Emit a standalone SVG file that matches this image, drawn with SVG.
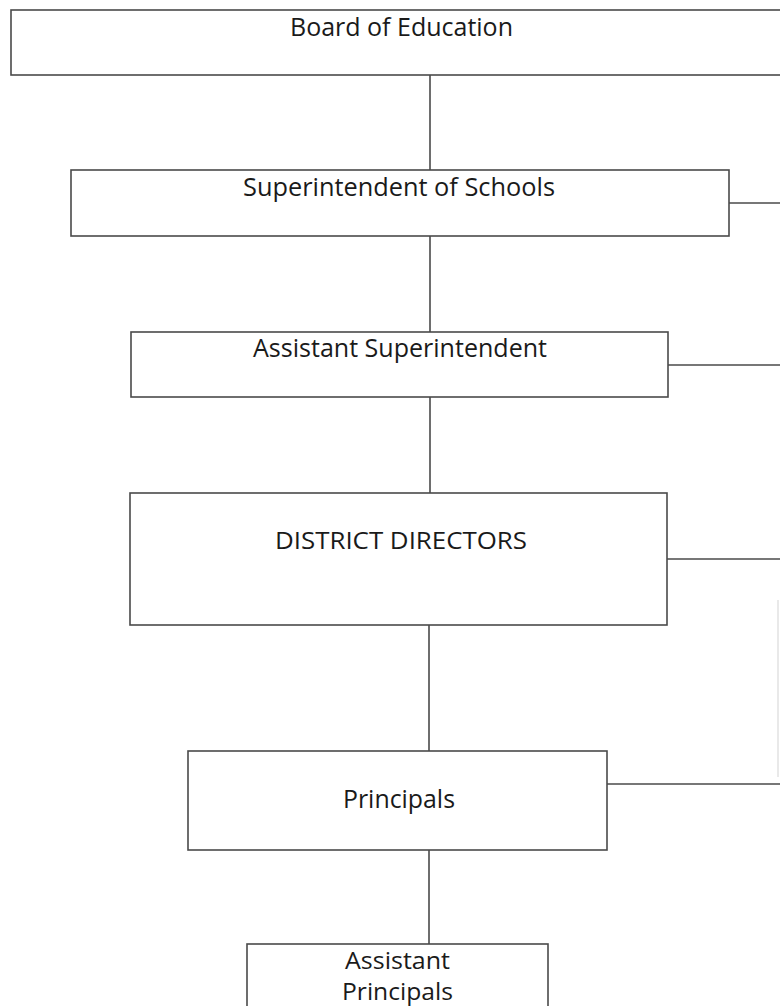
<svg xmlns="http://www.w3.org/2000/svg" width="780" height="1006" viewBox="0 0 780 1006">
<style>
.box{fill:#fff;stroke:#4a4a4a;stroke-width:1.6}
.ln{stroke:#4a4a4a;stroke-width:1.6;fill:none}
.faint{stroke:#e2e2e2;stroke-width:1.5;fill:none}
text{font-family:"Open Sans","Noto Sans",sans-serif;font-size:26px;fill:#1a1a1a}
.sm{font-size:23px}
</style>
<rect width="780" height="1006" fill="#fff"/>
<g id="connectors">
<line class="ln" x1="430" y1="75" x2="430" y2="170"/>
<line class="ln" x1="430" y1="236" x2="430" y2="332"/>
<line class="ln" x1="430" y1="397" x2="430" y2="493"/>
<line class="ln" x1="429" y1="625" x2="429" y2="751"/>
<line class="ln" x1="429" y1="850" x2="429" y2="944"/>
<line class="ln" x1="729" y1="203" x2="780" y2="203"/>
<line class="ln" x1="668" y1="365" x2="780" y2="365"/>
<line class="ln" x1="667" y1="559" x2="780" y2="559"/>
<line class="ln" x1="607" y1="784" x2="780" y2="784"/>
<line class="faint" x1="778" y1="600" x2="778" y2="777"/>
</g>
<g id="board">
<rect class="box" x="11" y="10" width="790" height="65"/>
<text x="290" y="36" textLength="223" lengthAdjust="spacingAndGlyphs">Board of Education</text>
</g>
<g id="superintendent">
<rect class="box" x="71" y="170" width="658" height="66"/>
<text x="243" y="196" textLength="312" lengthAdjust="spacingAndGlyphs">Superintendent of Schools</text>
</g>
<g id="assistant-superintendent">
<rect class="box" x="131" y="332" width="537" height="65"/>
<text x="253" y="357" textLength="294" lengthAdjust="spacingAndGlyphs">Assistant Superintendent</text>
</g>
<g id="district-directors">
<rect class="box" x="130" y="493" width="537" height="132"/>
<text x="275" y="549" textLength="252" lengthAdjust="spacingAndGlyphs" class="sm">DISTRICT DIRECTORS</text>
</g>
<g id="principals">
<rect class="box" x="188" y="751" width="419" height="99"/>
<text x="343" y="808" textLength="112" lengthAdjust="spacingAndGlyphs">Principals</text>
</g>
<g id="assistant-principals">
<rect class="box" x="247" y="944" width="301" height="80"/>
<text x="345" y="969" textLength="105" lengthAdjust="spacingAndGlyphs" class="sm">Assistant</text>
<text x="342" y="1000" textLength="111" lengthAdjust="spacingAndGlyphs" class="sm">Principals</text>
</g>
</svg>
